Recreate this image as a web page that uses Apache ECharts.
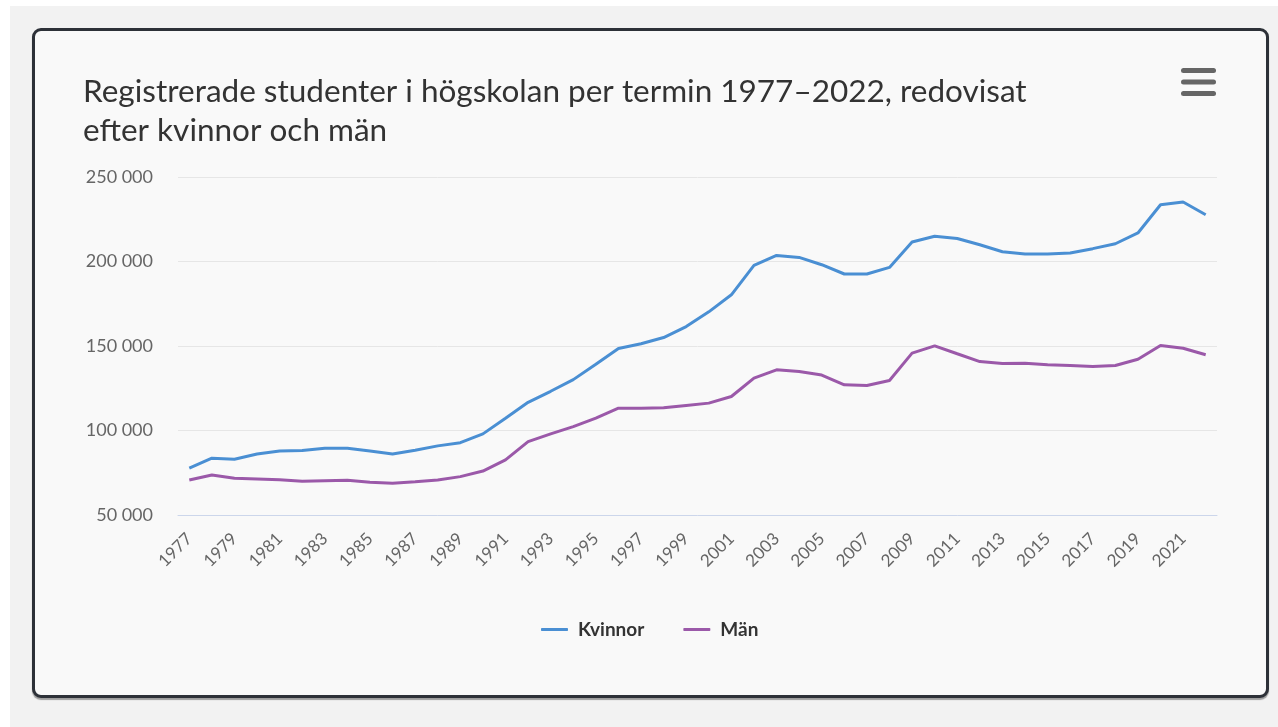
<!DOCTYPE html>
<html>
<head>
<meta charset="utf-8">
<script src="https://cdn.jsdelivr.net/npm/echarts@6/dist/echarts.min.js"></script>
<style>
  html, body { margin: 0; padding: 0; background: #ffffff; }
  #bg { position: absolute; left: 10px; top: 6px; width: 1268px; height: 721px; background: #f2f2f2; }
  #card { position: absolute; left: 32px; top: 28px; width: 1231px; height: 664px;
          background: #f9f9f9; border: 3px solid #2d3138; border-radius: 9px;
          box-shadow: 0 2px 1px rgba(0,0,0,0.35); }
  #chart { position: absolute; left: 0; top: 0; width: 1278px; height: 727px; }
</style>
</head>
<body>
<div id="bg"></div>
<div id="card"></div>
<div id="chart"></div>
<script>
// år 1977-2022
const years = ["1977", "1978", "1979", "1980", "1981", "1982", "1983", "1984", "1985", "1986",
  "1987", "1988", "1989", "1990", "1991", "1992", "1993", "1994", "1995", "1996",
  "1997", "1998", "1999", "2000", "2001", "2002", "2003", "2004", "2005", "2006",
  "2007", "2008", "2009", "2010", "2011", "2012", "2013", "2014", "2015", "2016",
  "2017", "2018", "2019", "2020", "2021", "2022"];

const kvinnor = [77700, 83600, 83000, 86100, 87900, 88100, 89500, 89500, 87900, 86100,
  88300, 90900, 92800, 98000, 107300, 116700, 123200, 130100, 139200, 148500,
  151300, 155000, 161500, 170200, 180300, 197700, 203600, 202400, 198100, 192600,
  192600, 196500, 211500, 214900, 213600, 209900, 205800, 204400, 204400, 205000,
  207600, 210500, 216900, 233600, 235200, 227700];

const man = [70700, 73700, 71700, 71300, 70900, 69900, 70300, 70500, 69400, 68800,
  69700, 70700, 72700, 76000, 82600, 93400, 98000, 102300, 107300, 113200,
  113200, 113400, 114800, 116200, 120100, 131000, 135900, 134900, 132800, 127000,
  126600, 129600, 145800, 150100, 145400, 140800, 139600, 139800, 138900, 138500,
  137900, 138500, 142200, 150300, 148700, 144800];

const seriesNames = ["Kvinnor", "Män"];
const seriesColors = ["#4a8fd3", "#9b59a9"];

const fmt = v => String(v).replace(/\B(?=(\d{3})+(?!\d))/g, " ");

let myChart = echarts.init(document.getElementById("chart"));
myChart.setOption({
  animation: false,
  textStyle: { fontFamily: "Lato" },
  title: {
    text: "Registrerade studenter i högskolan per termin 1977–2022, redovisat\nefter kvinnor och män",
    left: 83,
    top: 72,
    padding: 0,
    textStyle: {
      color: "#333333",
      fontSize: 31.5,
      fontWeight: "normal",
      lineHeight: 39,
      fontFamily: "Lato"
    }
  },
  graphic: [
    { type: "rect", shape: { x: 1181, y: 68, width: 35, height: 5, r: 2.5 }, style: { fill: "#666666" } },
    { type: "rect", shape: { x: 1181, y: 79.5, width: 35, height: 5, r: 2.5 }, style: { fill: "#666666" } },
    { type: "rect", shape: { x: 1181, y: 91, width: 35, height: 5, r: 2.5 }, style: { fill: "#666666" } }
  ],
  color: seriesColors,
  legend: {
    data: seriesNames,
    bottom: 83,
    left: 536,
    icon: "roundRect",
    itemWidth: 27,
    itemHeight: 3,
    itemGap: 39,
    textStyle: {
      color: "#333333",
      fontSize: 19,
      fontWeight: "bold",
      padding: [0, 0, 0, 5]
    }
  },
  grid: {
    left: 178,
    right: 61,
    top: 177,
    bottom: 212
  },
  xAxis: {
    type: "category",
    data: years,
    boundaryGap: true,
    axisLine: { lineStyle: { color: "#ccd6eb", width: 1 } },
    axisTick: { show: false },
    axisLabel: {
      color: "#666666",
      fontSize: 17,
      rotate: 45,
      interval: 1,
      margin: 21
    }
  },
  yAxis: {
    type: "value",
    min: 50000,
    max: 250000,
    interval: 50000,
    axisLine: { show: false },
    axisTick: { show: false },
    axisLabel: {
      color: "#666666",
      fontSize: 18,
      margin: 25,
      formatter: fmt
    },
    splitLine: { lineStyle: { color: "#e6e6e6", width: 1 } }
  },
  series: [
    {
      name: seriesNames[0],
      type: "line",
      data: kvinnor,
      symbol: "none",
      lineStyle: { width: 3 }
    },
    {
      name: seriesNames[1],
      type: "line",
      data: man,
      symbol: "none",
      lineStyle: { width: 3 }
    }
  ]
});
</script>
</body>
</html>
